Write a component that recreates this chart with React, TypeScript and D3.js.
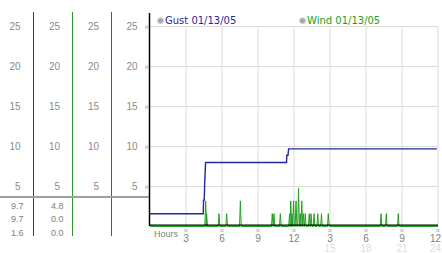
import React from 'react';
import * as d3 from 'd3';

// ---- data ----
const yTicks = [5, 10, 15, 20, 25];
const xTickHours = [3, 6, 9, 12, 15, 18, 21, 24];
const xTickLabels = ['3', '6', '9', '12', '3', '6', '9', '12'];
const xTickLabels2 = ['', '', '', '', '15', '18', '21', '24'];

const gustHours = [0, 4.44, 4.46, 4.52, 4.56, 4.63, 11.38, 11.4, 11.5, 11.55, 23.9];
const gustValues = [1.6, 1.6, 3.3, 3.3, 5.5, 8.0, 8.0, 8.9, 8.9, 9.7, 9.7];

const windHours = [4.64, 4.72, 5.75, 6.39, 7.53, 10.19, 10.33, 10.86, 11.63, 11.73, 11.83, 11.96, 12.17, 12.38, 12.52, 12.65, 12.78, 12.94, 13.27, 13.42, 13.67, 13.98, 14.29, 14.86, 19.25, 19.69, 20.69];
const windValues = [3.2, 1.6, 1.6, 1.6, 3.2, 1.6, 1.6, 1.6, 1.6, 3.2, 1.6, 3.2, 3.2, 4.8, 1.6, 3.2, 1.6, 1.6, 1.6, 1.6, 1.6, 1.6, 1.6, 1.6, 1.6, 1.6, 1.6];

const panelColumns = ['#1f3a99', '#2a9a2a', '#aa3333'];
const statsGust = ['9.7', '9.7', '1.6'];
const statsWind = ['4.8', '0.0', '0.0'];

const legendItems = [
  { label: 'Gust 01/13/05', color: '#1f2a99', x: 160.5 },
  { label: 'Wind 01/13/05', color: '#22a022', x: 302.5 },
];

const W = 442, H = 253;

const Dots = ({ x, y }: { x: number; y: number }) => (
  <g fill="#a0a0a0">
    {[[0, 0], [2, 0], [1, 1], [0, 2], [2, 2]].map(([dx, dy], i) => (
      <rect key={i} x={x + dx} y={y + dy} width={1} height={1} />
    ))}
  </g>
);

export default function App() {
  const x = d3.scaleLinear().domain([0, 24]).range([150, 438]);
  const y = d3.scaleLinear().domain([0, 25]).range([226.5, 26.5]);

  const gustLine = d3.line<number>()
    .x((_, i) => x(gustHours[i]))
    .y((d) => y(d));

  const dt = 0.07;
  const windPts: [number, number][] = [[0, 0]];
  windHours.forEach((h, i) => {
    windPts.push([h - dt, 0], [h, windValues[i]], [h + dt, 0]);
  });
  windPts.push([24, 0]);
  const windLine = d3.line<[number, number]>()
    .x((d) => x(d[0]))
    .y((d) => y(d[1]));

  const colLabelRight = [20.5, 60, 99, 137.5];
  const font = 'Liberation Sans, Arial, sans-serif';

  return (
    <svg width={W} height={H} style={{ position: 'absolute', left: 0, top: 0, background: '#fff' }}>
      <rect width={W} height={H} fill="#fff" />
      {/* grid */}
      {yTicks.map((t) => (
        <line key={'gy' + t} x1={150} x2={438} y1={y(t)} y2={y(t)} stroke="#dcdcdc" strokeWidth={1} />
      ))}
      {xTickHours.map((h) => (
        <line key={'gx' + h} x1={x(h)} x2={x(h)} y1={y(25)} y2={y(0)} stroke="#dcdcdc" strokeWidth={1} />
      ))}

      {/* left panel vertical lines */}
      {panelColumns.map((c, i) => (
        <line key={'pc' + i} x1={33.5 + i * 39} x2={33.5 + i * 39} y1={12} y2={236} stroke={c} strokeWidth={1} />
      ))}
      {/* gray cursor line */}
      <line x1={0} x2={149} y1={197} y2={197} stroke="#a0a0a0" strokeWidth={2} />

      {/* left panel labels */}
      {colLabelRight.map((rx, ci) =>
        yTicks.map((t) => (
          <text key={'cl' + ci + t} x={rx} y={y(t) + 3.6} fontSize={10} fontFamily={font} fill="#8a8a8a" textAnchor="end">
            {t}
          </text>
        ))
      )}
      {yTicks.map((t) => (
        <Dots key={'yd' + t} x={145} y={y(t) - 1} />
      ))}

      {statsGust.map((s, i) => (
        <text key={'sg' + i} x={23.5} y={208.5 + i * 13.8} fontSize={9} fontFamily={font} fill="#808080" textAnchor="end">{s}</text>
      ))}
      {statsWind.map((s, i) => (
        <text key={'sw' + i} x={63.5} y={208.5 + i * 13.8} fontSize={9} fontFamily={font} fill="#808080" textAnchor="end">{s}</text>
      ))}

      {/* series */}
      <path d={windLine(windPts) || ''} fill="none" stroke="#22a022" strokeWidth={1} />
      <path d={gustLine(gustValues) || ''} fill="none" stroke="#1f2a99" strokeWidth={1.4} />

      {/* axes */}
      <line x1={149.5} x2={149.5} y1={13} y2={226} stroke="#000" strokeWidth={1.5} />
      <line x1={149} x2={438} y1={225.2} y2={225.2} stroke="#000" strokeWidth={1.3} />

      {/* x labels */}
      <text x={154} y={237} fontSize={9} fontFamily={font} fill="#808080">Hours</text>
      {xTickHours.map((h, i) => {
        const lx = Math.min(x(h), 435.5);
        return (
          <g key={'xl' + h}>
            <Dots x={x(h) - 1.5} y={229} />
            <text x={lx} y={242} fontSize={10} fontFamily={font} fill="#808080" textAnchor="middle">{xTickLabels[i]}</text>
            <text x={lx} y={252} fontSize={10} fontFamily={font} fill="#dddddd" textAnchor="middle">{xTickLabels2[i]}</text>
          </g>
        );
      })}

      {/* legend */}
      {legendItems.map((l) => (
        <g key={l.label}>
          <circle cx={l.x} cy={20.7} r={3} fill="#a8a8a8" stroke="#d4d4d4" strokeWidth={1} />
          <text x={l.x + 4.5} y={24.3} fontSize={10} fontFamily="DejaVu Sans, Verdana, sans-serif" fill={l.color}>{l.label}</text>
        </g>
      ))}
    </svg>
  );
}
